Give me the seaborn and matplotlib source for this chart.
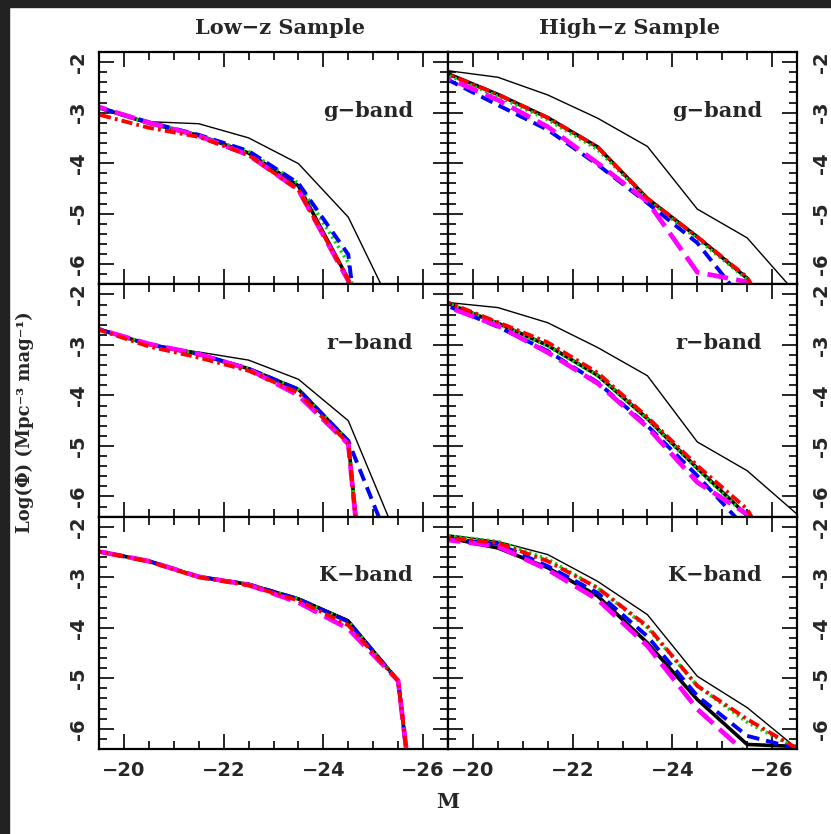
import numpy as np
import matplotlib
matplotlib.use("Agg")
import matplotlib.pyplot as plt
from matplotlib.patches import Rectangle
from matplotlib.ticker import MultipleLocator
import seaborn as sns

sns.set_style("white")
plt.rcParams["lines.scale_dashes"] = False
plt.rcParams["font.family"] = ["DejaVu Serif"]

# absolute magnitude bins (M)
mags = [-19.5, -20.5, -21.5, -22.5, -23.5, -24.5, -25.5, -26.5]

# log(phi) per panel; keys: thin solid, thick solid, dotted, dashed, long dashed, dash-dot
lowz_g = {
    "thin":    [-2.92, -3.18, -3.22, -3.50, -4.01, -5.07, -7.10, -9.00],
    "thick":   [-2.90, -3.21, -3.45, -3.80, -4.45, -6.30, -12.0, -14.0],
    "dotted":  [-2.92, -3.20, -3.45, -3.77, -4.40, -5.97, -12.0, -14.0],
    "dashed":  [-2.90, -3.19, -3.44, -3.76, -4.40, -5.81, -14.0, -16.0],
    "long":    [-2.89, -3.20, -3.46, -3.84, -4.53, -6.33, -14.0, -16.0],
    "dashdot": [-3.04, -3.30, -3.48, -3.84, -4.53, -6.30, -12.0, -14.0],
}
highz_g = {
    "thin":    [-2.17, -2.30, -2.65, -3.11, -3.67, -4.91, -5.48, -6.60],
    "thick":   [-2.23, -2.64, -3.10, -3.68, -4.70, -5.46, -6.28, -8.00],
    "dotted":  [-2.26, -2.68, -3.14, -3.73, -4.72, -5.50, -6.30, -8.00],
    "dashed":  [-2.35, -2.85, -3.34, -4.03, -4.79, -5.58, -6.82, -8.50],
    "long":    [-2.32, -2.75, -3.28, -4.00, -4.76, -6.16, -6.35, -8.00],
    "dashdot": [-2.24, -2.64, -3.10, -3.68, -4.70, -5.46, -6.26, -8.00],
}
lowz_r = {
    "thin":    [-2.69, -3.00, -3.14, -3.30, -3.68, -4.50, -6.87, -9.00],
    "thick":   [-2.69, -2.99, -3.18, -3.47, -3.88, -4.90, -15.0, -20.0],
    "dotted":  [-2.69, -2.99, -3.18, -3.47, -3.88, -4.90, -15.0, -20.0],
    "dashed":  [-2.69, -2.99, -3.18, -3.47, -3.88, -4.90, -7.36, -10.0],
    "long":    [-2.69, -2.98, -3.18, -3.48, -4.00, -4.96, -15.0, -20.0],
    "dashdot": [-2.70, -3.03, -3.25, -3.51, -3.95, -4.95, -15.0, -20.0],
}
highz_r = {
    "thin":    [-2.16, -2.26, -2.56, -3.05, -3.61, -4.92, -5.49, -6.35],
    "thick":   [-2.18, -2.57, -3.01, -3.60, -4.46, -5.44, -6.38, -8.00],
    "dotted":  [-2.18, -2.58, -3.02, -3.61, -4.47, -5.46, -6.40, -8.00],
    "dashed":  [-2.23, -2.64, -3.12, -3.74, -4.60, -5.59, -6.66, -8.00],
    "long":    [-2.25, -2.62, -3.15, -3.76, -4.63, -5.72, -6.35, -8.00],
    "dashdot": [-2.16, -2.55, -2.95, -3.55, -4.43, -5.39, -6.25, -8.00],
}
lowz_k = {
    "thin":    [-2.49, -2.68, -2.99, -3.14, -3.41, -3.84, -5.05, -13.4],
    "thick":   [-2.49, -2.68, -2.99, -3.14, -3.43, -3.87, -5.05, -13.4],
    "dotted":  [-2.49, -2.68, -2.99, -3.14, -3.43, -3.88, -5.05, -13.4],
    "dashed":  [-2.49, -2.68, -2.99, -3.14, -3.43, -3.88, -5.05, -13.4],
    "long":    [-2.49, -2.68, -2.99, -3.15, -3.50, -4.02, -5.05, -13.4],
    "dashdot": [-2.49, -2.69, -3.00, -3.16, -3.46, -3.95, -5.05, -13.4],
}
highz_k = {
    "thin":    [-2.16, -2.29, -2.55, -3.08, -3.74, -4.96, -5.58, -6.39],
    "thick":   [-2.22, -2.42, -2.81, -3.37, -4.30, -5.42, -6.31, -6.35],
    "dotted":  [-2.18, -2.29, -2.64, -3.21, -4.00, -5.15, -5.87, -6.39],
    "dashed":  [-2.24, -2.34, -2.78, -3.31, -4.17, -5.35, -6.14, -6.39],
    "long":    [-2.26, -2.39, -2.85, -3.44, -4.36, -5.61, -6.50, -7.50],
    "dashdot": [-2.22, -2.32, -2.68, -3.21, -3.97, -5.15, -5.81, -6.39],
}

panels = [[lowz_g, highz_g], [lowz_r, highz_r], [lowz_k, highz_k]]
band_names = ["g\u2212band", "r\u2212band", "K\u2212band"]
col_titles = ["Low\u2212z Sample", "High\u2212z Sample"]
xticks = [-20, -22, -24, -26]
xtick_labels = ["\u221220", "\u221222", "\u221224", "\u221226"]
yticks = [-2, -3, -4, -5, -6]
ytick_labels = ["-2", "-3", "-4", "-5", "-6"]

styles = {
    "thin":    dict(color="black", lw=1.0, linestyle="-"),
    "thick":   dict(color="black", lw=2.6, linestyle="-"),
    "dotted":  dict(color="#00dd00", lw=2.6, linestyle=(0, (1.5, 2.5))),
    "dashed":  dict(color="#0000ff", lw=2.8, linestyle=(0, (9, 5))),
    "long":    dict(color="#ff00ff", lw=3.4, linestyle=(0, (15, 6))),
    "dashdot": dict(color="#ff0000", lw=2.8, linestyle=(0, (8, 3, 2, 3))),
}
order = ["thin", "thick", "dotted", "dashed", "long", "dashdot"]

W, H = 831, 834
fig = plt.figure(figsize=(W / 100, H / 100), dpi=100)
axes = fig.subplots(3, 2, sharex=True, sharey=True,
                    gridspec_kw=dict(wspace=0, hspace=0))
fig.subplots_adjust(left=99 / W, right=797 / W, top=1 - 52 / H, bottom=1 - 749 / H)

tick_font = dict(family="DejaVu Sans", weight="bold", size=14)

for r in range(3):
    for c in range(2):
        ax = axes[r][c]
        data = panels[r][c]
        for key in order:
            sns.lineplot(x=mags, y=data[key], ax=ax, **styles[key])
        ax.set_xlim(-19.5, -26.5)
        ax.set_ylim(-6.4, -1.8)
        ax.set_xticks(xticks)
        ax.set_yticks(yticks)
        ax.xaxis.set_minor_locator(MultipleLocator(0.5))
        ax.yaxis.set_minor_locator(MultipleLocator(0.2))
        ax.tick_params(which="both", direction="in", top=True, bottom=True,
                       left=True, right=True, width=1.2, color="black")
        ax.tick_params(which="major", length=11)
        ax.tick_params(which="minor", length=5.5)
        for sp in ax.spines.values():
            sp.set_linewidth(1.6)
            sp.set_color("black")
        ax.set_xlabel("")
        ax.set_ylabel("")
        ax.text(0.90, 0.748, band_names[r], transform=ax.transAxes,
                ha="right", va="center", fontsize=15, fontweight="bold",
                family="DejaVu Serif")

        # tick labels
        if r == 2:
            ax.set_xticklabels(xtick_labels, fontdict=tick_font)
            ax.tick_params(axis="x", pad=9)
        else:
            ax.tick_params(axis="x", labelbottom=False)
        if c == 0:
            ax.tick_params(axis="y", labelleft=True, labelright=False,
                           labelrotation=90, pad=8)
        else:
            ax.tick_params(axis="y", labelleft=False, labelright=True,
                           labelrotation=90, pad=11)
        ax.set_yticklabels(ytick_labels, fontdict=tick_font)
        for lab in ax.get_yticklabels():
            lab.set_va("center")

    axes[0][0].set_title(col_titles[0], x=0.52, pad=13, fontsize=15,
                         fontweight="bold", family="DejaVu Serif")
    axes[0][1].set_title(col_titles[1], x=0.52, pad=13, fontsize=15,
                         fontweight="bold", family="DejaVu Serif")

fig.text(448 / W, 1 - 802 / H, "M", ha="center", va="center",
         fontsize=15, fontweight="bold", family="DejaVu Serif")
fig.text(25 / W, 1 - 422 / H, "Log(\u03a6) (Mpc\u207b\u00b3 mag\u207b\u00b9)",
         rotation=90, ha="center", va="center", fontsize=13,
         fontweight="bold", family="DejaVu Serif")

# dark screenshot frame on top and left
fig.add_artist(Rectangle((0, 1 - 7 / H), 1, 7 / H, transform=fig.transFigure,
                         color="#222222", zorder=10))
fig.add_artist(Rectangle((0, 0), 9 / W, 1, transform=fig.transFigure,
                         color="#222222", zorder=10))

fig.savefig("out.png", dpi=100)
